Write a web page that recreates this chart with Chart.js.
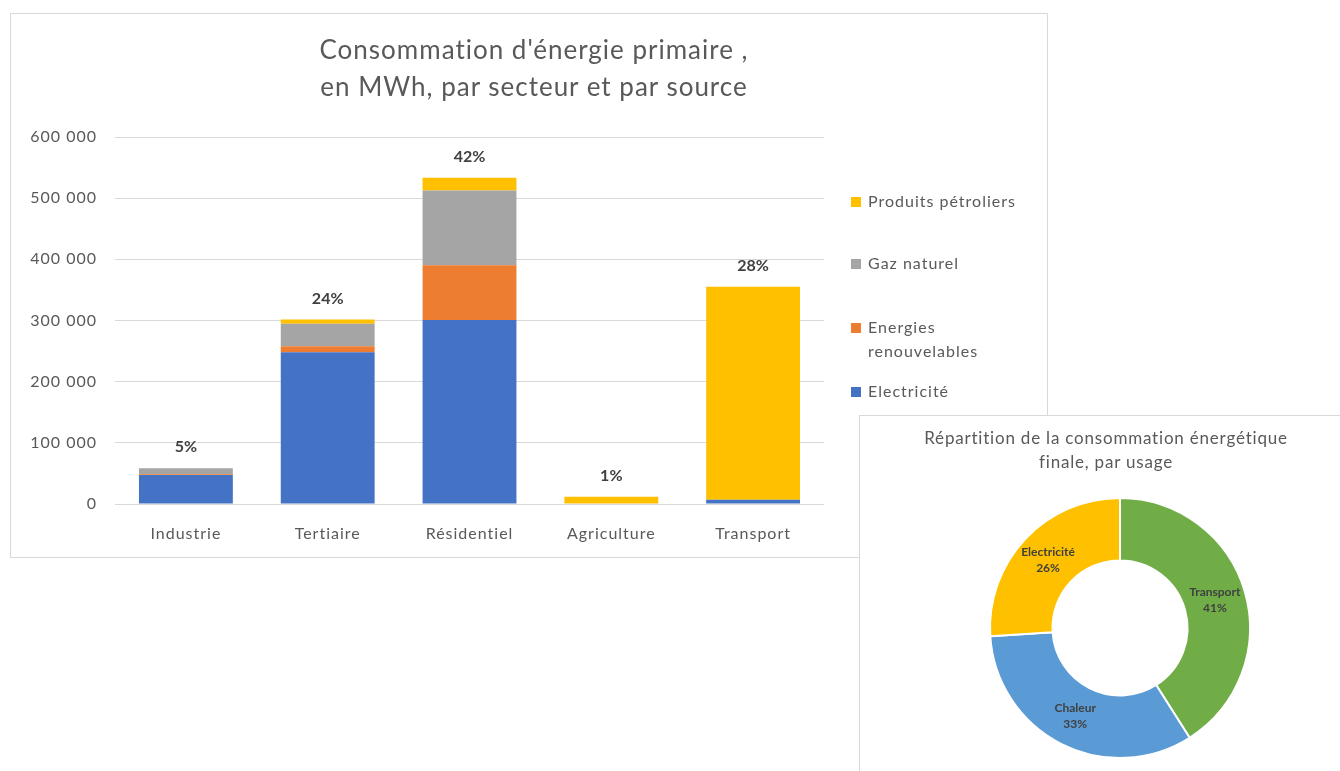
<!DOCTYPE html>
<html lang="fr">
<head>
<meta charset="utf-8">
<script src="https://cdn.jsdelivr.net/npm/chart.js@4/dist/chart.umd.min.js"></script>
<style>
  html, body { margin: 0; padding: 0; background: #fff; width: 1340px; height: 771px; overflow: hidden; }
  body { position: relative; font-family: Lato, "Open Sans", sans-serif; color: #595959; }
  #barBox { position: absolute; left: 10px; top: 13px; width: 1036px; height: 543px; border: 1px solid #d9d9d9; background: #fff; }
  #barTitle { position: absolute; left: 0; top: 17px; width: 1046px; text-align: center; font-size: 26px; line-height: 37px; letter-spacing: 1px; color: #595959; }
  #barCanvas { position: absolute; left: 0; top: 0; }
  #pieBox { position: absolute; left: 859px; top: 415px; width: 485px; height: 360px; border: 1px solid #d9d9d9; background: #fff; }
  #pieTitle { position: absolute; left: 0; top: 10px; width: 492px; text-align: center; font-size: 17px; line-height: 24px; letter-spacing: 0.8px; color: #595959; }
  #pieCanvas { position: absolute; left: 0; top: 0; }
</style>
</head>
<body>
<div id="barBox">
  <canvas id="barCanvas" width="1036" height="543"></canvas>
  <div id="barTitle">Consommation d'énergie primaire ,<br>en MWh, par secteur et par source</div>
</div>
<div id="pieBox">
  <canvas id="pieCanvas" width="480" height="355"></canvas>
  <div id="pieTitle">Répartition de la consommation énergétique<br>finale, par usage</div>
</div>
<script>
// Consommation par secteur (MWh) et par source
const secteurs = ['Industrie', 'Tertiaire', 'Résidentiel', 'Agriculture', 'Transport'];
const electricite = [47500, 248000, 301000, 0, 7000];
const energiesRenouvelables = [1000, 10000, 89500, 0, 0];
const gazNaturel = [10000, 36500, 122000, 0, 0];
const produitsPetroliers = [0, 7000, 21000, 12000, 348000];
const yTicks = [0, 100000, 200000, 300000, 400000, 500000, 600000];

// Répartition de la consommation finale par usage (%)
const usages = ['Transport', 'Chaleur', 'Electricité'];
const partsUsage = [41, 33, 26];

const FONT = 'Lato, "Open Sans", sans-serif';
const TEXT = '#595959';

const fmtThousands = v => String(v).replace(/\B(?=(\d{3})+(?!\d))/g, ' ');

// Slightly looser letter spacing for all canvas text of the bar chart
const spacing = {
  id: 'spacing',
  beforeDraw(chart) { chart.ctx.letterSpacing = '1px'; }
};

// Total labels (share of overall consumption) above each stacked bar
const totalLabels = {
  id: 'totalLabels',
  afterDatasetsDraw(chart) {
    const ctx = chart.ctx;
    const ds = chart.data.datasets;
    const totals = chart.data.labels.map((_, i) => ds.reduce((s, d) => s + d.data[i], 0));
    const grand = totals.reduce((a, b) => a + b, 0);
    const meta = chart.getDatasetMeta(0);
    const yScale = chart.scales.y;
    ctx.save();
    ctx.letterSpacing = '0px';
    ctx.font = 'bold 16px ' + FONT;
    ctx.fillStyle = '#404040';
    ctx.textAlign = 'center';
    ctx.textBaseline = 'middle';
    totals.forEach((t, i) => {
      const x = meta.data[i].x;
      const y = yScale.getPixelForValue(t) - 21;
      ctx.fillText(Math.round(t / grand * 100) + '%', x, y);
    });
    ctx.restore();
  }
};

// Legend on the right, top entry = top of the stack
const sideLegend = {
  id: 'sideLegend',
  afterDraw(chart) {
    const ctx = chart.ctx;
    const items = chart.data.datasets.slice().reverse();
    const rows = [188, 250, 314, 378];
    const x = 840;
    ctx.save();
    ctx.letterSpacing = '1px';
    ctx.font = '16px ' + FONT;
    ctx.textBaseline = 'middle';
    ctx.textAlign = 'left';
    items.forEach((d, k) => {
      const y = rows[k];
      ctx.fillStyle = d.backgroundColor;
      ctx.fillRect(x, y - 5, 10, 10);
      ctx.fillStyle = TEXT;
      const lines = d.legendLines || [d.label];
      lines.forEach((ln, j) => ctx.fillText(ln, x + 17, y + j * 24));
    });
    ctx.restore();
  }
};

new Chart(document.getElementById('barCanvas'), {
  type: 'bar',
  data: {
    labels: secteurs,
    datasets: [
      { label: 'Electricité', data: electricite, backgroundColor: '#4472C4' },
      { label: 'Energies renouvelables', legendLines: ['Energies', 'renouvelables'], data: energiesRenouvelables, backgroundColor: '#ED7D31' },
      { label: 'Gaz naturel', data: gazNaturel, backgroundColor: '#A5A5A5' },
      { label: 'Produits pétroliers', data: produitsPetroliers, backgroundColor: '#FFC000' }
    ]
  },
  options: {
    responsive: false,
    animation: false,
    layout: { padding: { top: 123, right: 223, left: 0, bottom: 0 } },
    datasets: { bar: { barPercentage: 0.662, categoryPercentage: 1 } },
    plugins: { legend: { display: false }, title: { display: false }, tooltip: { enabled: false } },
    scales: {
      x: {
        stacked: true,
        grid: { display: false, drawTicks: false },
        border: { display: false },
        ticks: { color: TEXT, font: { family: FONT, size: 16 }, padding: 20 },
        afterFit(s) { s.height = 53; }
      },
      y: {
        stacked: true,
        min: 0, max: 600000,
        afterBuildTicks(s) { s.ticks = yTicks.map(v => ({ value: v })); },
        grid: { color: '#d9d9d9', lineWidth: 1, drawTicks: false },
        border: { display: false },
        ticks: { color: TEXT, font: { family: FONT, size: 16 }, padding: 18, callback: v => fmtThousands(v) },
        afterFit(s) { s.width = 104; }
      }
    }
  },
  plugins: [spacing, totalLabels, sideLegend]
});

// Category name + share written inside each ring slice
const sliceLabels = {
  id: 'sliceLabels',
  afterDatasetsDraw(chart) {
    const ctx = chart.ctx;
    const meta = chart.getDatasetMeta(0);
    const vals = chart.data.datasets[0].data;
    ctx.save();
    ctx.font = 'bold 12px ' + FONT;
    ctx.fillStyle = '#404040';
    ctx.textAlign = 'center';
    ctx.textBaseline = 'middle';
    meta.data.forEach((arc, i) => {
      const p = arc.tooltipPosition();
      ctx.fillText(chart.data.labels[i], p.x, p.y - 8);
      ctx.fillText(vals[i] + '%', p.x, p.y + 8);
    });
    ctx.restore();
  }
};

new Chart(document.getElementById('pieCanvas'), {
  type: 'doughnut',
  data: {
    labels: usages,
    datasets: [{
      data: partsUsage,
      backgroundColor: ['#70AD47', '#5B9BD5', '#FFC000'],
      borderColor: '#ffffff',
      borderWidth: 2
    }]
  },
  options: {
    responsive: false,
    animation: false,
    radius: 130,
    cutout: 67,
    layout: { padding: { left: 130, right: 90, top: 82, bottom: 13 } },
    plugins: { legend: { display: false }, title: { display: false }, tooltip: { enabled: false } }
  },
  plugins: [sliceLabels]
});
</script>
</body>
</html>
